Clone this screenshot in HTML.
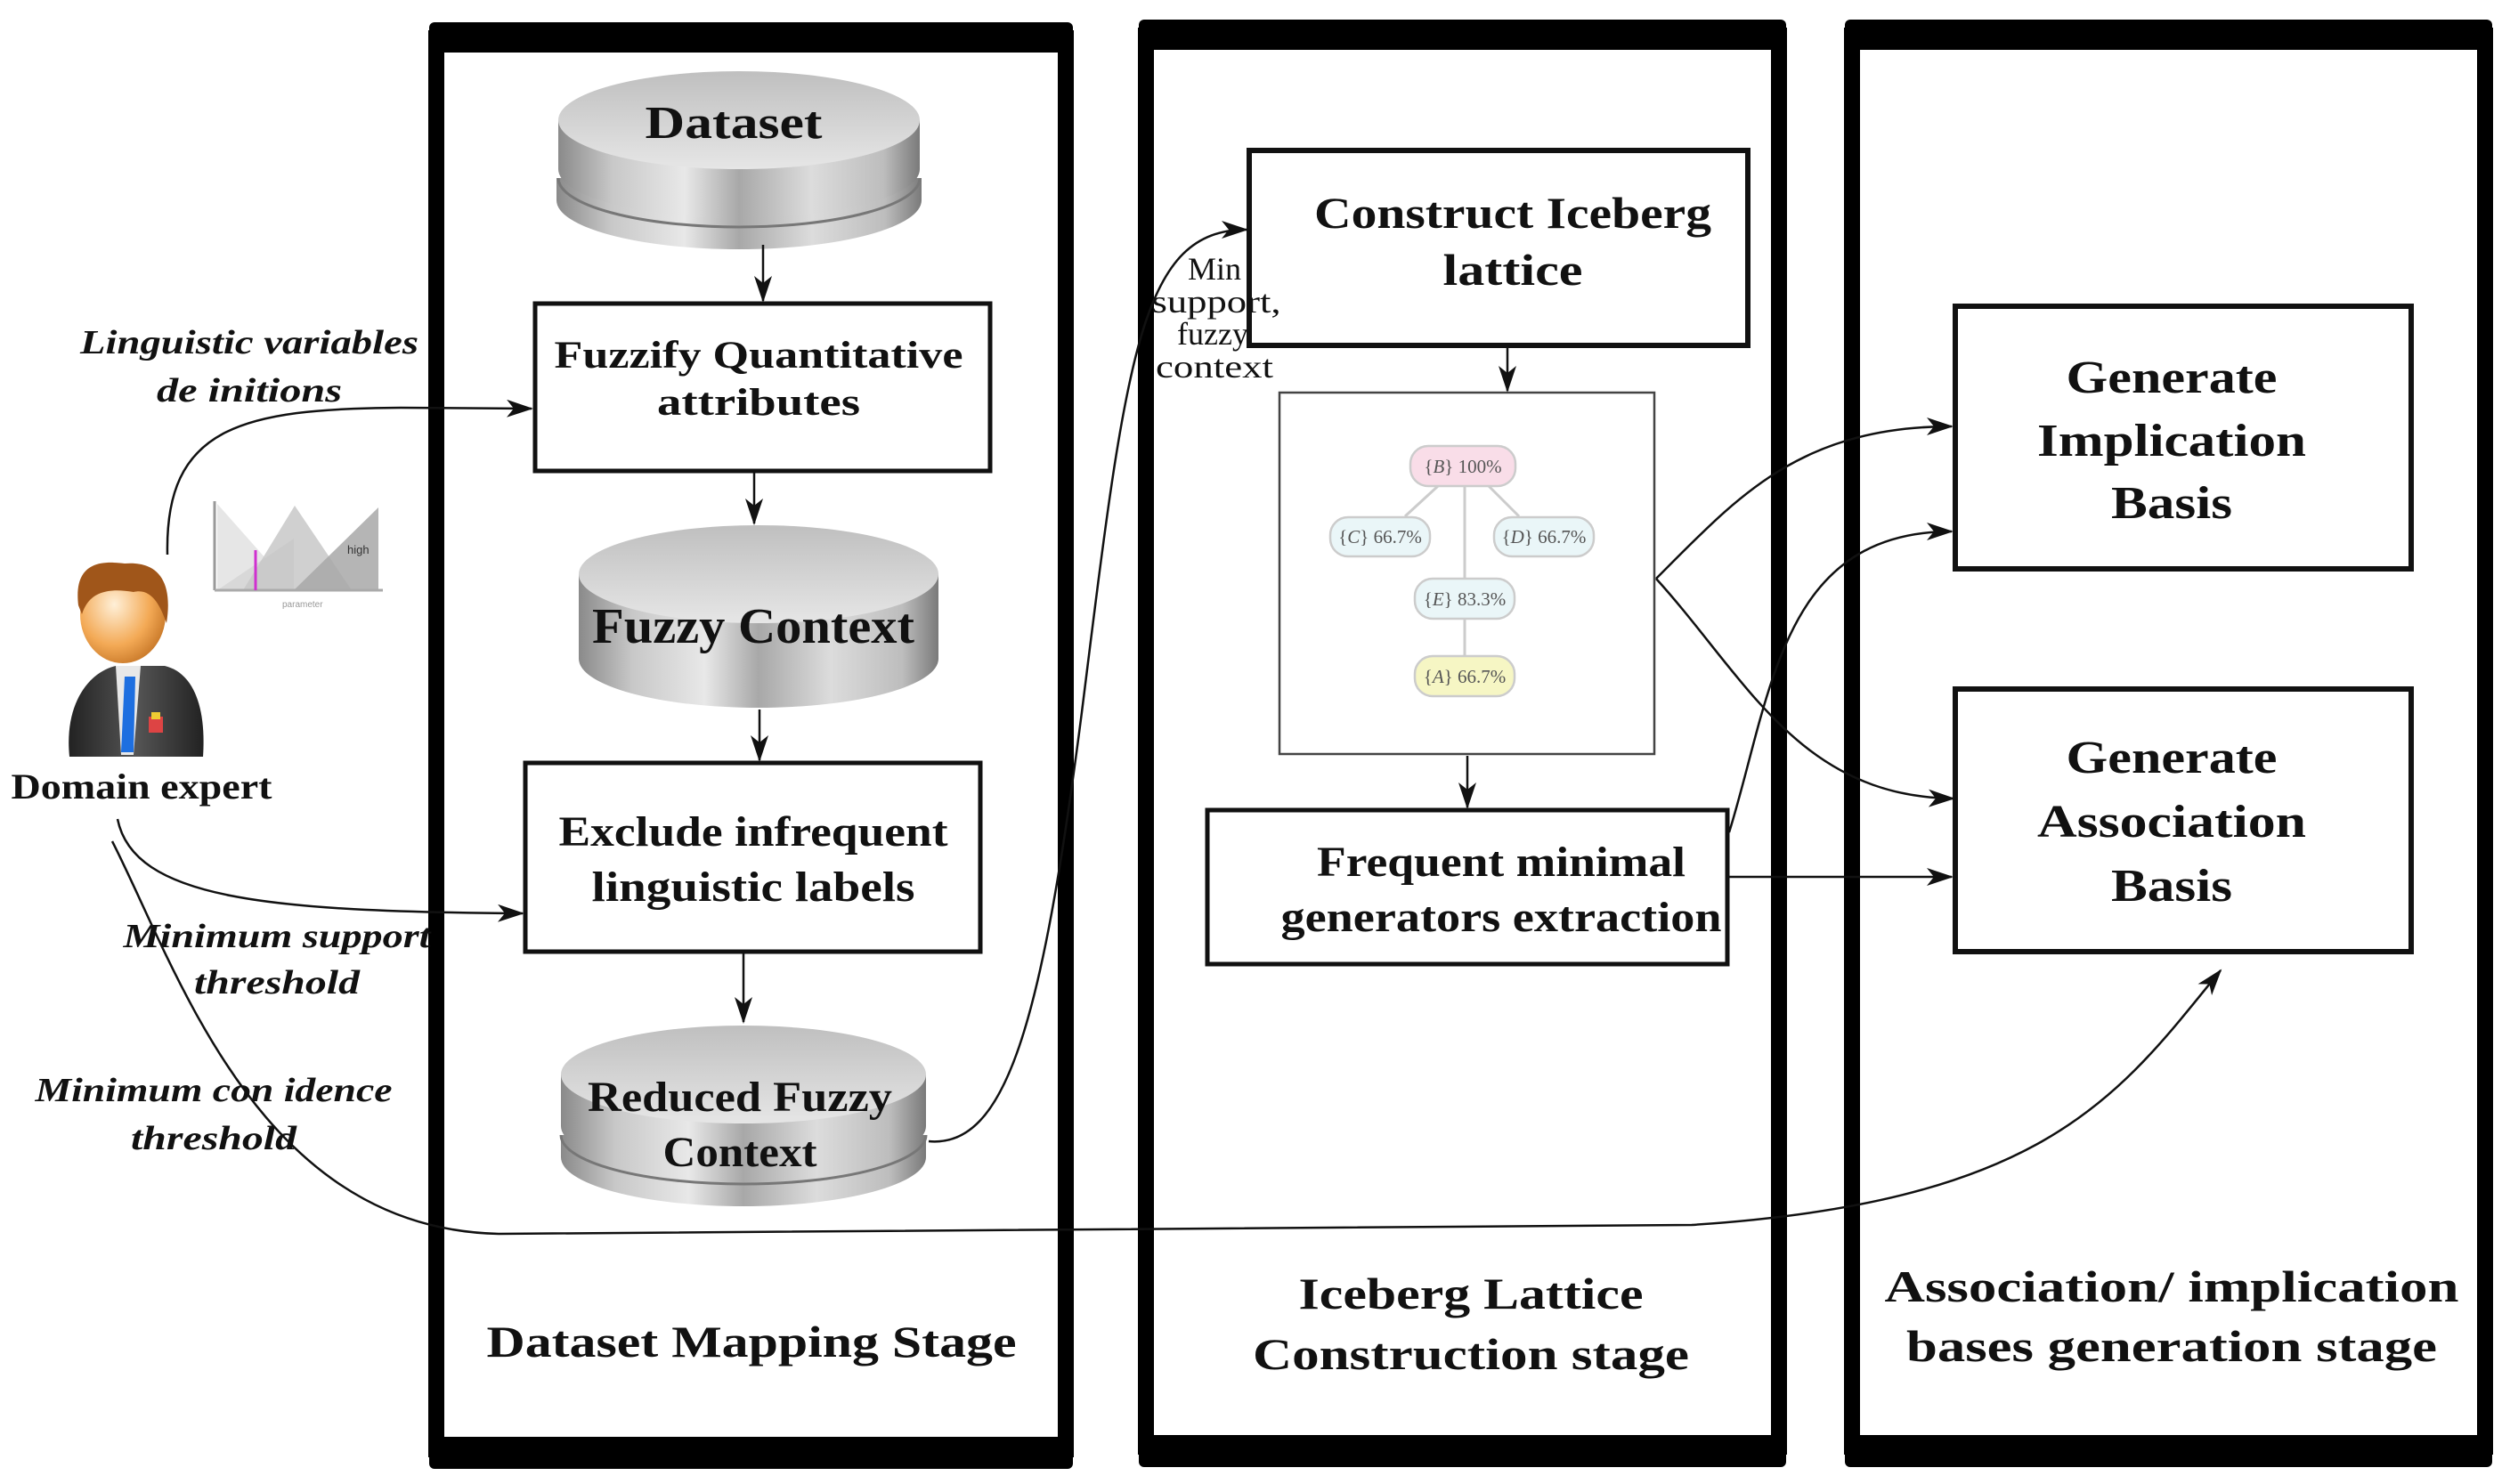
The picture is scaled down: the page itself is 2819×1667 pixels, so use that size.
<!DOCTYPE html>
<html><head><meta charset="utf-8"><style>
html,body{margin:0;padding:0;background:#fff}
svg{display:block}
.b{font-family:"Liberation Serif",serif;font-weight:bold;fill:#111}
.i{font-family:"Liberation Serif",serif;font-weight:bold;font-style:italic;fill:#111}
.n{font-family:"Liberation Serif",serif;fill:#111}
.ln{fill:none;stroke:#111;stroke-width:2.5}
</style></head><body>
<svg width="2819" height="1667" viewBox="0 0 2819 1667" xmlns="http://www.w3.org/2000/svg">
<defs>
<marker id="ar" viewBox="0 0 30 20" refX="28" refY="10" markerWidth="30" markerHeight="20" markerUnits="userSpaceOnUse" orient="auto">
<path d="M0,0 L30,10 L0,20 L8,10 Z" fill="#111"/>
</marker>
<linearGradient id="cyl" x1="0" x2="1" y1="0" y2="0">
<stop offset="0" stop-color="#8a8a8a"/><stop offset="0.15" stop-color="#c8c8c8"/><stop offset="0.35" stop-color="#e8e8e8"/><stop offset="0.5" stop-color="#a8a8a8"/><stop offset="0.7" stop-color="#dcdcdc"/><stop offset="0.9" stop-color="#bdbdbd"/><stop offset="1" stop-color="#7a7a7a"/>
</linearGradient>
<linearGradient id="top" x1="0" x2="0" y1="0" y2="1">
<stop offset="0" stop-color="#bfbfbf"/><stop offset="1" stop-color="#e6e6e6"/>
</linearGradient>
<linearGradient id="suit" x1="0" x2="1"><stop offset="0" stop-color="#222"/><stop offset="0.5" stop-color="#555"/><stop offset="1" stop-color="#222"/></linearGradient>
<radialGradient id="face" cx="0.4" cy="0.4" r="0.7"><stop offset="0" stop-color="#fff0d8"/><stop offset="0.6" stop-color="#f3a955"/><stop offset="1" stop-color="#c06f20"/></radialGradient>
</defs>

<!-- Panels -->
<rect x="490" y="43" width="707" height="1585" fill="none" stroke="#000" stroke-width="18"/>
<rect x="482" y="25" width="723" height="34" rx="6" fill="#000"/>
<rect x="482" y="1614" width="723" height="36" rx="6" fill="#000"/>
<rect x="1287" y="40" width="711" height="1585" fill="none" stroke="#000" stroke-width="18"/>
<rect x="1279" y="22" width="727" height="34" rx="6" fill="#000"/>
<rect x="1279" y="1612" width="727" height="36" rx="6" fill="#000"/>
<rect x="2080" y="40" width="711" height="1585" fill="none" stroke="#000" stroke-width="18"/>
<rect x="2072" y="22" width="727" height="34" rx="6" fill="#000"/>
<rect x="2072" y="1612" width="727" height="36" rx="6" fill="#000"/>

<!-- Dataset cylinder (two stacked) -->
<g>
<path d="M625,200 L625,225 A205,55 0 0 0 1035,225 L1035,200 Z" fill="url(#cyl)"/>
<path d="M627,135 L627,190 A203,55 0 0 0 1033,190 L1033,135 Z" fill="url(#cyl)"/>
<path d="M627,200 A203,55 0 0 0 1033,200" fill="none" stroke="#777" stroke-width="3"/>
<ellipse cx="830" cy="135" rx="203" ry="55" fill="url(#top)"/>
</g>
<text class="b" x="824" y="155" font-size="52" text-anchor="middle" textLength="199" lengthAdjust="spacingAndGlyphs">Dataset</text>

<!-- Fuzzy Context cylinder -->
<g>
<path d="M650,645 L650,740 A202,55 0 0 0 1054,740 L1054,645 Z" fill="url(#cyl)"/>
<ellipse cx="852" cy="645" rx="202" ry="55" fill="url(#top)"/>
</g>
<text class="b" x="846" y="722" font-size="56" text-anchor="middle" textLength="362" lengthAdjust="spacingAndGlyphs">Fuzzy Context</text>

<!-- Reduced cylinder -->
<g>
<path d="M630,1275 L630,1300 A205,55 0 0 0 1040,1300 L1040,1275 Z" fill="url(#cyl)"/>
<path d="M630,1207 L630,1265 A205,55 0 0 0 1040,1265 L1040,1207 Z" fill="url(#cyl)"/>
<path d="M630,1275 A205,55 0 0 0 1040,1275" fill="none" stroke="#777" stroke-width="3"/>
<ellipse cx="835" cy="1207" rx="205" ry="55" fill="url(#top)"/>
</g>
<text class="b" x="831" y="1248" font-size="48" text-anchor="middle" textLength="342" lengthAdjust="spacingAndGlyphs">Reduced Fuzzy</text>
<text class="b" x="831" y="1310" font-size="48" text-anchor="middle" textLength="173" lengthAdjust="spacingAndGlyphs">Context</text>

<!-- Boxes -->
<rect x="601" y="341" width="511" height="188" fill="#fff" stroke="#111" stroke-width="5"/>
<text class="b" x="852" y="413" font-size="43" text-anchor="middle" textLength="459" lengthAdjust="spacingAndGlyphs">Fuzzify Quantitative</text>
<text class="b" x="852" y="466" font-size="43" text-anchor="middle" textLength="228" lengthAdjust="spacingAndGlyphs">attributes</text>

<rect x="590" y="857" width="511" height="212" fill="#fff" stroke="#111" stroke-width="5"/>
<text class="b" x="846" y="950" font-size="48" text-anchor="middle" textLength="437" lengthAdjust="spacingAndGlyphs">Exclude infrequent</text>
<text class="b" x="846" y="1012" font-size="48" text-anchor="middle" textLength="363" lengthAdjust="spacingAndGlyphs">linguistic labels</text>

<text class="b" x="844" y="1524" font-size="50" text-anchor="middle" textLength="595" lengthAdjust="spacingAndGlyphs">Dataset Mapping Stage</text>

<rect x="1403" y="169" width="560" height="219" fill="#fff" stroke="#111" stroke-width="6"/>
<text class="b" x="1699" y="256" font-size="50" text-anchor="middle" textLength="446" lengthAdjust="spacingAndGlyphs">Construct Iceberg</text>
<text class="b" x="1699" y="320" font-size="50" text-anchor="middle" textLength="157" lengthAdjust="spacingAndGlyphs">lattice</text>

<!-- lattice image -->
<rect x="1437" y="441" width="421" height="406" fill="#fff" stroke="#444" stroke-width="2.5"/>
<g stroke="#ccc" stroke-width="3">
<line x1="1615" y1="546" x2="1578" y2="580"/><line x1="1672" y1="546" x2="1706" y2="580"/>
<line x1="1645" y1="546" x2="1645" y2="650"/><line x1="1645" y1="695" x2="1645" y2="737"/>
</g>
<g stroke="#ccc" stroke-width="2.5">
<rect x="1584" y="501" width="118" height="45" rx="20" fill="#f9dde8"/>
<rect x="1494" y="581" width="112" height="44" rx="20" fill="#eaf6f8"/>
<rect x="1678" y="581" width="112" height="44" rx="20" fill="#eaf6f8"/>
<rect x="1589" y="650" width="112" height="45" rx="20" fill="#eaf6f8"/>
<rect x="1589" y="737" width="112" height="45" rx="20" fill="#f6f6c4"/>
</g>
<g font-family="Liberation Serif,serif" font-size="21" fill="#555" text-anchor="middle">
<text x="1643" y="531">{<tspan font-style="italic">B</tspan>} 100%</text>
<text x="1550" y="610">{<tspan font-style="italic">C</tspan>} 66.7%</text>
<text x="1734" y="610">{<tspan font-style="italic">D</tspan>} 66.7%</text>
<text x="1645" y="680">{<tspan font-style="italic">E</tspan>} 83.3%</text>
<text x="1645" y="767">{<tspan font-style="italic">A</tspan>} 66.7%</text>
</g>

<rect x="1356" y="910" width="584" height="173" fill="#fff" stroke="#111" stroke-width="5"/>
<text class="b" x="1686" y="984" font-size="48" text-anchor="middle" textLength="414" lengthAdjust="spacingAndGlyphs">Frequent minimal</text>
<text class="b" x="1686" y="1046" font-size="48" text-anchor="middle" textLength="495" lengthAdjust="spacingAndGlyphs">generators extraction</text>

<text class="b" x="1652" y="1470" font-size="50" text-anchor="middle" textLength="387" lengthAdjust="spacingAndGlyphs">Iceberg Lattice</text>
<text class="b" x="1652" y="1538" font-size="50" text-anchor="middle" textLength="490" lengthAdjust="spacingAndGlyphs">Construction stage</text>

<rect x="2196" y="344" width="512" height="295" fill="#fff" stroke="#111" stroke-width="6"/>
<text class="b" x="2439" y="441" font-size="52" text-anchor="middle" textLength="237" lengthAdjust="spacingAndGlyphs">Generate</text>
<text class="b" x="2439" y="512" font-size="52" text-anchor="middle" textLength="302" lengthAdjust="spacingAndGlyphs">Implication</text>
<text class="b" x="2439" y="582" font-size="52" text-anchor="middle" textLength="136" lengthAdjust="spacingAndGlyphs">Basis</text>

<rect x="2196" y="774" width="512" height="295" fill="#fff" stroke="#111" stroke-width="6"/>
<text class="b" x="2439" y="868" font-size="52" text-anchor="middle" textLength="237" lengthAdjust="spacingAndGlyphs">Generate</text>
<text class="b" x="2439" y="940" font-size="52" text-anchor="middle" textLength="302" lengthAdjust="spacingAndGlyphs">Association</text>
<text class="b" x="2439" y="1012" font-size="52" text-anchor="middle" textLength="136" lengthAdjust="spacingAndGlyphs">Basis</text>

<text class="b" x="2439" y="1462" font-size="50" text-anchor="middle" textLength="645" lengthAdjust="spacingAndGlyphs">Association/ implication</text>
<text class="b" x="2439" y="1529" font-size="50" text-anchor="middle" textLength="596" lengthAdjust="spacingAndGlyphs">bases generation stage</text>

<!-- Person -->
<g>
<path d="M78,850 C72,790 100,755 130,748 L185,748 C215,755 232,790 228,850 Z" fill="url(#suit)"/>
<path d="M130,748 L158,748 L150,848 L136,848 Z" fill="#e8e8e8"/>
<path d="M140,760 L152,760 L150,845 L136,845 Z" fill="#1e6fe0"/>
<rect x="167" y="805" width="16" height="18" fill="#d44" /><rect x="170" y="800" width="10" height="8" fill="#ec3"/>
<ellipse cx="138" cy="690" rx="48" ry="55" fill="url(#face)"/>
<path d="M88,680 C82,630 115,630 140,633 C175,630 195,650 187,700 C180,680 170,660 150,665 C120,660 100,665 92,690 Z" fill="#a0561a"/>
</g>
<text class="b" x="159" y="897" font-size="40" text-anchor="middle" textLength="293" lengthAdjust="spacingAndGlyphs">Domain expert</text>

<!-- small chart -->
<g>
<polygon points="244,566 244,663 330,663" fill="#e6e6e6"/>
<polygon points="244,663 330,605 330,663" fill="#d8d8d8"/>
<polygon points="273,663 331,568 395,663" fill="#c8c8c8" opacity="0.85"/>
<polygon points="330,663 425,570 425,663" fill="#a8a8a8" opacity="0.85"/>
<line x1="241" y1="563" x2="241" y2="663" stroke="#999" stroke-width="3"/>
<line x1="241" y1="663" x2="430" y2="663" stroke="#aaa" stroke-width="3"/>
<line x1="287" y1="618" x2="287" y2="663" stroke="#d030d0" stroke-width="3"/>
<text x="390" y="622" font-family="Liberation Sans,sans-serif" font-size="13" fill="#333">high</text>
<text x="317" y="682" font-family="Liberation Sans,sans-serif" font-size="10" fill="#999">parameter</text>
</g>

<!-- Labels -->
<text class="i" x="280" y="397" font-size="38" text-anchor="middle" textLength="380" lengthAdjust="spacingAndGlyphs">Linguistic variables</text>
<text class="i" x="280" y="451" font-size="38" text-anchor="middle" textLength="208" lengthAdjust="spacingAndGlyphs">de  initions</text>
<text class="i" x="311" y="1064" font-size="38" text-anchor="middle" textLength="345" lengthAdjust="spacingAndGlyphs">Minimum support</text>
<text class="i" x="311" y="1116" font-size="38" text-anchor="middle" textLength="186" lengthAdjust="spacingAndGlyphs">threshold</text>
<text class="i" x="240" y="1237" font-size="38" text-anchor="middle" textLength="401" lengthAdjust="spacingAndGlyphs">Minimum con  idence</text>
<text class="i" x="240" y="1291" font-size="38" text-anchor="middle" textLength="186" lengthAdjust="spacingAndGlyphs">threshold</text>
<g class="n" font-size="36" text-anchor="middle">
<text x="1364" y="314">Min</text>
<text x="1366" y="351" textLength="145" lengthAdjust="spacingAndGlyphs">support,</text>
<text x="1362" y="387">fuzzy</text>
<text x="1364" y="424" textLength="132" lengthAdjust="spacingAndGlyphs">context</text>
</g>

<!-- Connectors -->
<g class="ln" marker-end="url(#ar)">
<line x1="857" y1="275" x2="857" y2="338"/>
<line x1="847" y1="529" x2="847" y2="588"/>
<line x1="853" y1="797" x2="853" y2="854"/>
<line x1="835" y1="1070" x2="835" y2="1148"/>
<line x1="1693" y1="391" x2="1693" y2="439"/>
<line x1="1648" y1="849" x2="1648" y2="907"/>
<path d="M188,623 C185,480 270,459 450,458 L597,459"/>
<path d="M132,920 C150,1010 300,1024 587,1026"/>
<path d="M126,945 C200,1090 290,1380 560,1386 L1900,1376 C2300,1350 2380,1230 2494,1090"/>
<path d="M1043,1282 C1130,1290 1170,1150 1215,800 C1265,400 1280,258 1400,258"/>
<path d="M1860,650 C1950,560 2020,479 2192,479"/>
<path d="M1860,650 C1960,760 2020,895 2194,897"/>
<path d="M1942,935 C1990,780 2000,597 2192,597"/>
<line x1="1941" y1="985" x2="2192" y2="985"/>
</g>
</svg>
</body></html>
